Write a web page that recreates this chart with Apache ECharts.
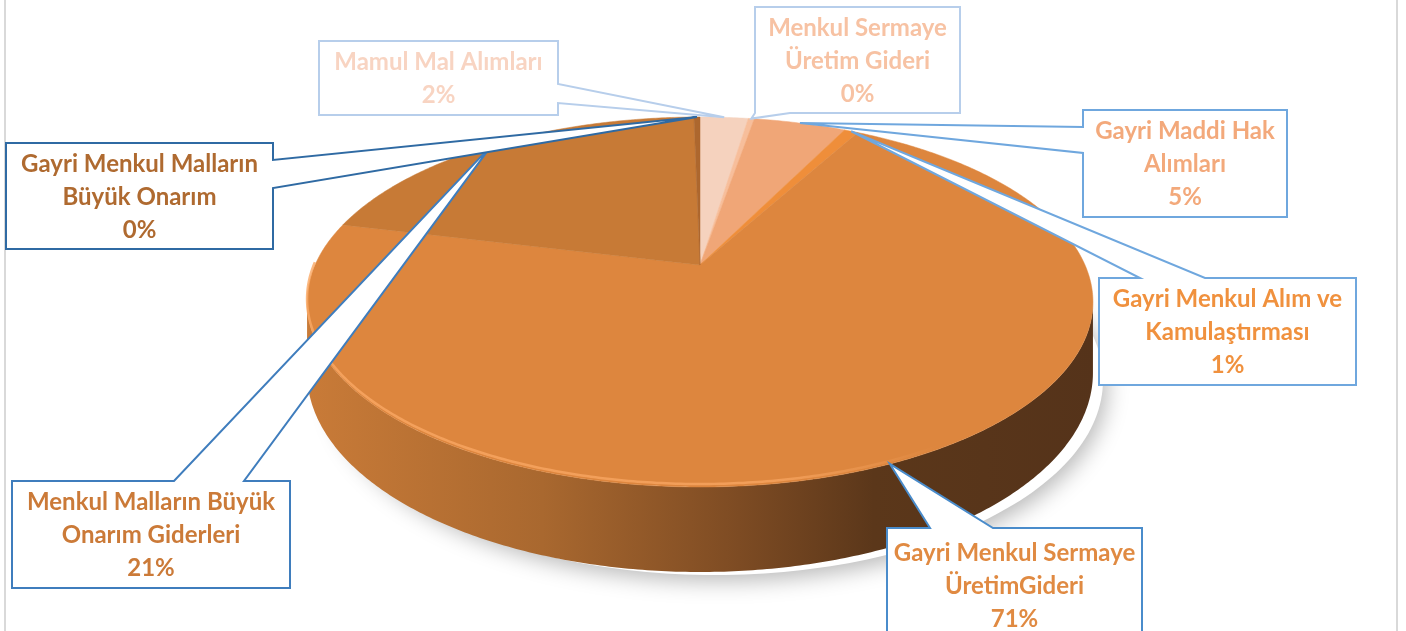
<!DOCTYPE html>
<html>
<head>
<meta charset="utf-8">
<script src="https://cdn.jsdelivr.net/npm/echarts@6/dist/echarts.min.js"></script>
<style>
html, body { margin: 0; padding: 0; background: #fff; }
#main { width: 1406px; height: 631px; }
</style>
</head>
<body>
<div id="main"></div>
<script>
// dilimler, saat 12 yönünden başlayıp saat yönünde
var categories = [
    'Mamul Mal Alımları',
    'Menkul Sermaye\nÜretim Gideri',
    'Gayri Maddi Hak\nAlımları',
    'Gayri Menkul Alım ve\nKamulaştırması',
    'Gayri Menkul Sermaye\nÜretimGideri',
    'Menkul Malların Büyük\nOnarım Giderleri',
    'Gayri Menkul Malların\nBüyük Onarım'
];
var values = [2.4, 0.3, 4.6, 0.7, 70.8, 20.9, 0.3];

var sliceColors = ['#F5D2BE', '#F7BE9B', '#F0A677', '#EF8E3A', '#DD863E', '#C77A36', '#AD672E'];
var textColors = ['#F8D4C2', '#F7C2A3', '#F3A97B', '#F0913E', '#E08A42', '#CB7A38', '#AF6A30'];
var borderColors = ['#B7CEEB', '#B7CEEB', '#6FA7DE', '#6FA7DE', '#4A8CCB', '#3F7DBD', '#2F6AA3'];

// kutu yerleşimi: x, y, w, h, kenar, taban başı, taban sonu
var boxes = [
    [319, 41, 239, 74, 'right', 84, 103],
    [755, 7, 205, 106, 'bottom', 755, 790],
    [1083, 110, 204, 107, 'left', 127, 153],
    [1099, 278, 257, 107, 'top', 1140, 1205],
    [887, 528, 255, 115, 'top', 930, 993],
    [12, 481, 278, 107, 'top', 174, 244],
    [6, 143, 267, 106, 'right', 160, 188]
];

// 3B pasta izdüşümü
var CX = 700, CY = 265, W = 385, A = 177.6, B = 0.2, H = 68;
function proj(t, depth) {
    var u = Math.sin(t), v = Math.cos(t);
    var den = 1 + B * v;
    return [CX + W * u / den, CY - A * v / den + depth * H / den];
}

var total = 0;
for (var i = 0; i < values.length; i++) total += values[i];
var pieData = [];
var acc = 0;
for (var i = 0; i < values.length; i++) {
    var a0 = acc / total * Math.PI * 2;
    acc += values[i];
    var a1 = acc / total * Math.PI * 2;
    pieData.push({name: categories[i], value: [a0, a1, values[i]]});
}

var FRONT0 = Math.PI - Math.acos(B), FRONT1 = Math.PI + Math.acos(B);

function rim(a0, a1, depth) {
    var pts = [];
    var n = Math.max(2, Math.ceil((a1 - a0) / 0.01));
    for (var k = 0; k <= n; k++) {
        pts.push(proj(a0 + (a1 - a0) * k / n, depth));
    }
    return pts;
}

function renderSide(params, api) {
    var a0 = Math.max(api.value(0), FRONT0);
    var a1 = Math.min(api.value(1), FRONT1);
    if (a1 <= a0) return null;
    var top = rim(a0, a1, 0);
    var bot = rim(a0, a1, 1).reverse();
    return {
        type: 'polygon',
        shape: {points: top.concat(bot)},
        style: {
            fill: new echarts.graphic.LinearGradient(305, 0, 1095, 0, [
                {offset: 0, color: '#C97B38'},
                {offset: 0.3, color: '#A9682F'},
                {offset: 0.55, color: '#7D4B23'},
                {offset: 0.72, color: '#5B371A'},
                {offset: 1, color: '#55331A'}
            ], true)
        }
    };
}

function renderTop(params, api) {
    var a0 = api.value(0), a1 = api.value(1);
    var pts = [[CX, CY]].concat(rim(a0, a1, 0));
    var children = [{
        type: 'polygon',
        shape: {points: pts},
        style: {fill: sliceColors[params.dataIndex], stroke: sliceColors[params.dataIndex], lineWidth: 0.5}
    }];
    var f0 = Math.max(a0, FRONT0 - 0.3), f1 = Math.min(a1, FRONT1 + 0.2);
    if (f1 > f0) {
        var hl = rim(f0, f1, 0).map(function (p) { return [p[0], p[1] - 3]; });
        children.push({
            type: 'polyline',
            shape: {points: hl},
            style: {
                stroke: new echarts.graphic.LinearGradient(305, 0, 1095, 0, [
                    {offset: 0, color: 'rgba(250,168,100,0.8)'},
                    {offset: 0.6, color: 'rgba(250,168,100,0.7)'},
                    {offset: 0.8, color: 'rgba(250,168,100,0)'},
                    {offset: 1, color: 'rgba(250,168,100,0)'}
                ], true),
                lineWidth: 2.5,
                fill: null
            }
        });
    }
    return {type: 'group', children: children};
}

function calloutPoints(b, tip) {
    var x = b[0], y = b[1], w = b[2], h = b[3], side = b[4], p = b[5], q = b[6];
    var pts = [[x, y]];
    if (side === 'top') pts.push([p, y], tip, [q, y]);
    pts.push([x + w, y]);
    if (side === 'right') pts.push([x + w, p], tip, [x + w, q]);
    pts.push([x + w, y + h]);
    if (side === 'bottom') pts.push([q, y + h], tip, [p, y + h]);
    pts.push([x, y + h]);
    if (side === 'left') pts.push([x, q], tip, [x, p]);
    return pts;
}

function renderLabel(params, api) {
    var i = params.dataIndex;
    var mid = (api.value(0) + api.value(1)) / 2;
    var tip = proj(mid, 0);
    var b = boxes[i];
    var pct = Math.round(api.value(2) / total * 100) + '%';
    return {
        type: 'group',
        children: [{
            type: 'polygon',
            shape: {points: calloutPoints(b, tip)},
            style: {fill: '#ffffff', stroke: borderColors[i], lineWidth: 2}
        }, {
            type: 'text',
            style: {
                text: categories[i] + '\n' + pct,
                x: b[0] + b[2] / 2,
                y: b[1] + b[3] / 2 + 1,
                align: 'center',
                verticalAlign: 'middle',
                fill: textColors[i],
                fontFamily: 'Lato',
                fontWeight: 'bold',
                fontSize: 24,
                lineHeight: 33
            }
        }]
    };
}

var myChart = echarts.init(document.getElementById('main'));
var option = {
    backgroundColor: '#ffffff',
    animation: false,
    graphic: [{
        type: 'rect',
        shape: {x: 5, y: -10, width: 1392, height: 660},
        style: {fill: 'none', stroke: '#D9D9D9', lineWidth: 2},
        silent: true,
        z: -10
    }, {
        type: 'ellipse',
        shape: {cx: 715, cy: 380, rx: 388, ry: 195},
        style: {fill: '#fff', shadowBlur: 22, shadowColor: 'rgba(0,0,0,0.28)', shadowOffsetY: 6, shadowOffsetX: 4},
        silent: true,
        z: -5
    }],
    series: [{
        type: 'custom',
        coordinateSystem: 'none',
        renderItem: renderSide,
        data: pieData,
        silent: true,
        z: 1
    }, {
        type: 'custom',
        coordinateSystem: 'none',
        renderItem: renderTop,
        data: pieData,
        silent: true,
        z: 2
    }, {
        type: 'custom',
        coordinateSystem: 'none',
        renderItem: renderLabel,
        data: pieData,
        silent: true,
        z: 3
    }]
};
myChart.setOption(option);
</script>
</body>
</html>
